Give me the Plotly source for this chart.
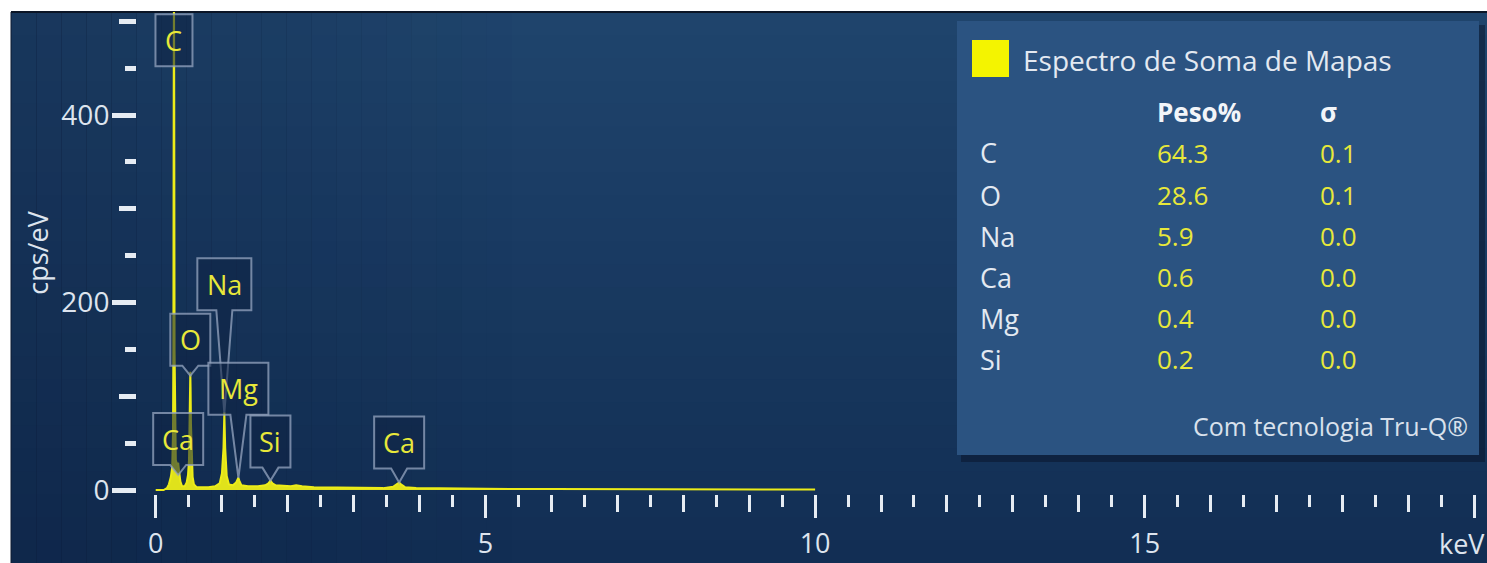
import plotly.graph_objects as go

# ---------------- data ----------------
energy_kev = [
    0.00, 0.12, 0.17, 0.20, 0.23, 0.25, 0.262, 0.268, 0.273, 0.277, 0.281, 0.286, 0.292, 0.305, 0.325, 0.341,
    0.355, 0.375, 0.40, 0.44,
    0.47, 0.49, 0.505, 0.515, 0.521, 0.525, 0.529, 0.535, 0.545, 0.56, 0.58, 0.62, 0.70,
    0.80, 0.90, 0.97, 1.005, 1.028, 1.041, 1.054, 1.077, 1.11, 1.17, 1.22, 1.24, 1.254, 1.268, 1.30, 1.40,
    1.55, 1.66, 1.71, 1.74, 1.77, 1.82, 1.95, 2.05, 2.13, 2.22, 2.40, 2.70, 3.10, 3.45, 3.60, 3.66, 3.692, 3.72,
    3.78, 3.95, 4.40, 5.00, 6.00, 7.00, 8.00, 9.00, 10.00]
cps_per_ev = [
    0, 0, 2, 6, 14, 24, 60, 150, 420, 545, 420, 150, 60, 32, 27, 29,
    20, 9, 4, 4,
    8, 16, 32, 70, 110, 126, 110, 70, 30, 14, 6, 3, 3,
    3, 4, 7, 18, 45, 83, 45, 15, 6, 5, 8, 11, 13, 10, 5, 4,
    4, 5, 7, 10, 7, 5, 4, 4, 5, 4, 3, 2.5, 2, 2, 3.5, 6, 8, 6,
    3, 2, 1.5, 1.2, 1.0, 0.8, 0.7, 0.6, 0.5]

x_tick_vals = [0, 5, 10, 15, 20]
x_tick_text = ["0", "5", "10", "15", ""]
x_unit = "keV"
y_tick_vals = [0, 200, 400]
y_tick_text = ["0", "200", "400"]
y_title = "cps/eV"

peak_labels = ["C", "O", "Na", "Mg", "Ca", "Si", "Ca"]
peak_energy = [0.277, 0.525, 1.041, 1.254, 0.341, 1.740, 3.692]
peak_apex = [452, 122, 82, 13, 16, 10, 8]

legend_name = "Espectro de Soma de Mapas"
col_headers = ["Peso%", "σ"]
elements = ["C", "O", "Na", "Ca", "Mg", "Si"]
peso = ["64.3", "28.6", "5.9", "0.6", "0.4", "0.2"]
sigma = ["0.1", "0.1", "0.0", "0.0", "0.0", "0.0"]
footer = "Com tecnologia Tru-Q®"

# ---------------- layout constants ----------------
W, H = 1487, 563
ML, MR, MT, MB = 137, 0, 12, 69
PW, PH = W - ML - MR, H - MT - MB
FONT = "Open Sans, Noto Sans, sans-serif"
TICK = "#e6ecf3"
LABEL = "#dde4ee"
YEL = "#e8e83a"

pointer_len = [0, 10, 103, 63, 10, 13, 14]
box_w = [37, 40, 54, 60, 50, 40, 50]
BOX_H = 52


def pxx(px):
    return (px - ML) / PW


def pxy(py):
    return (H - MB - py) / PH


XR = [-0.2836, 20.19]
YR = [-4.27, 509.9]

fig = go.Figure()
fig.add_trace(go.Scatter(
    x=energy_kev, y=cps_per_ev, mode="lines", fill="tozeroy",
    line=dict(color="rgba(236,236,24,1)", width=2),
    fillcolor="rgba(236,236,24,0.95)", showlegend=False, hoverinfo="skip"))
# helper trace for the overlay axes carrying the finest ticks
fig.add_trace(go.Scatter(x=[None], y=[None], xaxis="x2", yaxis="y2",
                         showlegend=False, hoverinfo="skip"))

shapes = []
# navy background with soft vertical gradient
top = (31, 68, 108)
bot = (18, 46, 84)
NB = 24
y_start, y_end = 12, H
for i in range(NB):
    f = i / (NB - 1)
    c = tuple(round(top[k] + (bot[k] - top[k]) * f) for k in range(3))
    y0 = y_start + (y_end - y_start) * i / NB
    y1 = y_start + (y_end - y_start) * (i + 1) / NB + 1
    shapes.append(dict(type="rect", xref="paper", yref="paper", layer="below",
                       x0=pxx(11), x1=pxx(W), y0=pxy(min(y1, H)), y1=pxy(y0),
                       fillcolor="rgb(%d,%d,%d)" % c, line=dict(width=0)))
# darker left side
NS = 20
for i in range(NS):
    xa = 11 + i * 25
    op = 0.30 * (1 - i / NS)
    shapes.append(dict(type="rect", xref="paper", yref="paper", layer="below",
                       x0=pxx(xa), x1=pxx(xa + 26), y0=pxy(H), y1=pxy(12),
                       fillcolor="rgba(10,26,56,%.3f)" % op, line=dict(width=0)))
shapes.append(dict(type="line", xref="paper", yref="paper", layer="below",
                   x0=pxx(11), x1=pxx(W), y0=pxy(12), y1=pxy(12),
                   line=dict(color="#0b1526", width=2)))
shapes.append(dict(type="line", xref="paper", yref="paper", layer="below",
                   x0=pxx(11), x1=pxx(11), y0=pxy(12), y1=pxy(H),
                   line=dict(color="#0e1a30", width=1)))

# legend panel
shapes.append(dict(type="rect", xref="paper", yref="paper", layer="above",
                   x0=pxx(961), x1=pxx(1485), y0=pxy(462), y1=pxy(25),
                   fillcolor="rgba(6,16,36,0.45)", line=dict(width=0)))
shapes.append(dict(type="rect", xref="paper", yref="paper", layer="above",
                   x0=pxx(957), x1=pxx(1479), y0=pxy(455), y1=pxy(21),
                   fillcolor="#2b5381", line=dict(width=0)))
shapes.append(dict(type="rect", xref="paper", yref="paper", layer="above",
                   x0=pxx(972), x1=pxx(1009), y0=pxy(77), y1=pxy(40),
                   fillcolor="#f4f400", line=dict(width=0)))

annotations = []
# peak callouts
for name, e, a, p, bw in zip(peak_labels, peak_energy, peak_apex, pointer_len, box_w):
    hw = bw / 2
    v = 8
    if p > 0:
        path = (f"M {-hw},{p} L {-hw},{p + BOX_H} L {hw},{p + BOX_H} L {hw},{p} "
                f"L {v},{p} L 0,0 L {-v},{p} Z")
    else:
        path = f"M {-hw},0 L {-hw},{BOX_H} L {hw},{BOX_H} L {hw},0 Z"
    shapes.append(dict(type="path", xref="x", yref="y", xsizemode="pixel", ysizemode="pixel",
                       xanchor=e, yanchor=a, path=path, layer="above",
                       fillcolor="rgba(14,34,68,0.55)",
                       line=dict(color="rgba(150,165,192,0.75)", width=2)))
    annotations.append(dict(x=e, y=a, xref="x", yref="y", yshift=p + BOX_H / 2,
                            text=name, showarrow=False, xanchor="center", yanchor="middle",
                            font=dict(family=FONT, size=27, color=YEL)))

# x unit label at the last major tick
annotations.append(dict(x=pxx(1487), y=pxy(543), xref="paper", yref="paper", text=x_unit,
                        showarrow=False, xanchor="right", yanchor="middle",
                        font=dict(family=FONT, size=27, color=LABEL)))

# legend texts
annotations.append(dict(x=pxx(1021), y=pxy(60), xref="paper", yref="paper", text=legend_name,
                        showarrow=False, xanchor="left", yanchor="middle",
                        font=dict(family=FONT, size=28, color="#e3e9f1")))
col_x = [1155, 1318]
for cx, hdr in zip(col_x, col_headers):
    annotations.append(dict(x=pxx(cx), y=pxy(112), xref="paper", yref="paper",
                            text="<b>%s</b>" % hdr, showarrow=False, xanchor="left",
                            yanchor="middle", font=dict(family=FONT, size=26, color="#f2f5f9")))
row_y = [153, 195, 236, 277, 318, 359]
for ry, el, pv, sv in zip(row_y, elements, peso, sigma):
    annotations.append(dict(x=pxx(978), y=pxy(ry), xref="paper", yref="paper", text=el,
                            showarrow=False, xanchor="left", yanchor="middle",
                            font=dict(family=FONT, size=27, color="#e3e9f1")))
    annotations.append(dict(x=pxx(col_x[0]), y=pxy(ry), xref="paper", yref="paper", text=pv,
                            showarrow=False, xanchor="left", yanchor="middle",
                            font=dict(family=FONT, size=26, color=YEL)))
    annotations.append(dict(x=pxx(col_x[1]), y=pxy(ry), xref="paper", yref="paper", text=sv,
                            showarrow=False, xanchor="left", yanchor="middle",
                            font=dict(family=FONT, size=26, color=YEL)))
annotations.append(dict(x=pxx(1470), y=pxy(426), xref="paper", yref="paper", text=footer,
                        showarrow=False, xanchor="right", yanchor="middle",
                        font=dict(family=FONT, size=25, color="#d9e1ec")))

fig.update_layout(
    width=W, height=H, autosize=False,
    margin=dict(l=ML, r=MR, t=MT, b=MB, pad=0, autoexpand=False),
    paper_bgcolor="white", plot_bgcolor="rgba(0,0,0,0)",
    showlegend=False,
    font=dict(family=FONT, color=LABEL),
    shapes=shapes, annotations=annotations,
    xaxis=dict(range=XR, tickmode="array", tickvals=x_tick_vals, ticktext=x_tick_text,
               ticks="outside", ticklen=23, tickwidth=3, tickcolor=TICK, automargin=False,
               showgrid=False, zeroline=False, showline=False,
               tickfont=dict(family=FONT, size=27, color=LABEL), ticklabelstandoff=3,
               minor=dict(tick0=0, dtick=1, ticks="outside", ticklen=17, tickwidth=3,
                          tickcolor=TICK, showgrid=False),
               fixedrange=True),
    xaxis2=dict(range=XR, overlaying="x", anchor="y2", tick0=0, dtick=0.5, automargin=False,
                ticks="outside", ticklen=12, tickwidth=3, tickcolor=TICK,
                showticklabels=False, showgrid=False, zeroline=False, showline=False,
                fixedrange=True),
    yaxis=dict(range=YR, tickmode="array", tickvals=y_tick_vals, ticktext=y_tick_text,
               ticks="outside", ticklen=24, tickwidth=4.5, tickcolor=TICK, automargin=False,
               showgrid=False, zeroline=False, showline=False,
               tickfont=dict(family=FONT, size=28, color=LABEL), ticklabelstandoff=-3,
               title=dict(text=y_title, font=dict(family=FONT, size=27, color=LABEL), standoff=4),
               minor=dict(tick0=0, dtick=100, ticks="outside", ticklen=17, tickwidth=4.5,
                          tickcolor=TICK, showgrid=False),
               fixedrange=True),
    yaxis2=dict(range=YR, overlaying="y", anchor="x2", tick0=0, dtick=50, automargin=False,
                ticks="outside", ticklen=11, tickwidth=4.5, tickcolor=TICK,
                showticklabels=False, showgrid=False, zeroline=False, showline=False,
                fixedrange=True),
)

post = ("document.body.style.margin='0px';"
        "document.body.style.overflow='hidden';"
        "document.documentElement.style.overflow='hidden';")

fig.write_html("out.html", config={"displayModeBar": False}, post_script=post)
